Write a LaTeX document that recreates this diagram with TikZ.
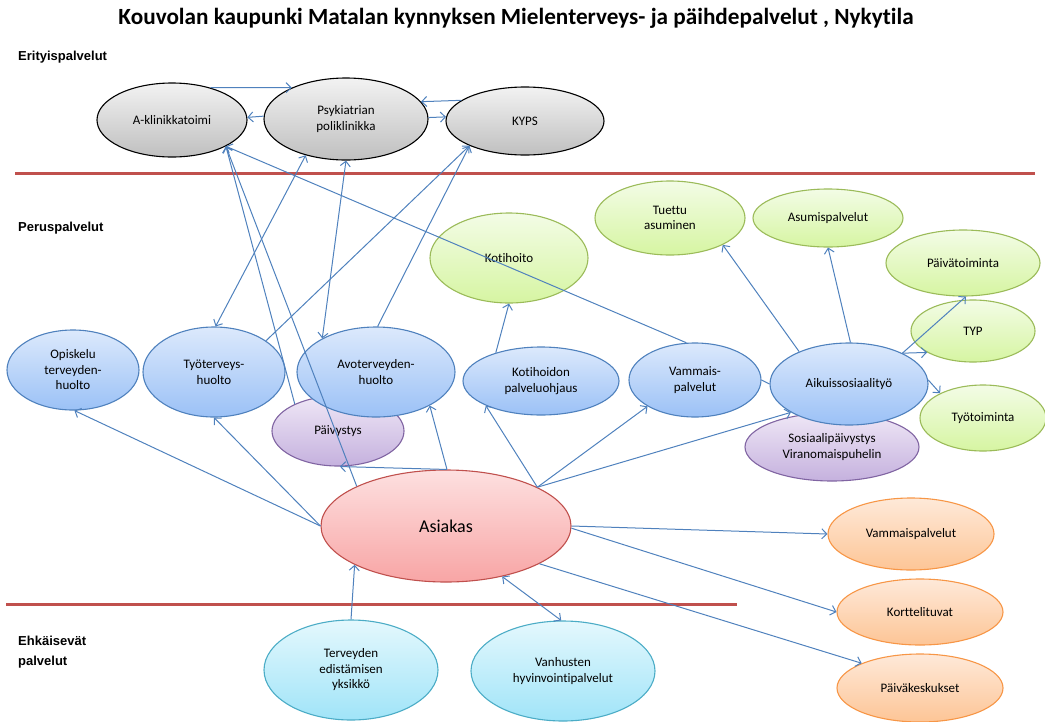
\documentclass[tikz,border=0pt]{standalone}
\usepackage{fontspec}
\setmainfont{Carlito}[Ligatures=NoCommon]
\newfontfamily\arialf{Liberation Sans}
\usetikzlibrary{arrows.meta,shapes.geometric}
\definecolor{connblue}{HTML}{4F81BD}
\definecolor{sepred}{HTML}{C0504D}
\begin{document}
\begin{tikzpicture}[x=1pt,y=-1pt,
  ell/.style={ellipse, draw, line width=1.1pt, inner sep=0pt, align=center,
    font=\fontsize{13}{15.5}\selectfont},
  grayell/.style={ell, draw=black, top color=gray!10, bottom color=gray!50},
  blueell/.style={ell, draw=connblue, top color={rgb,255:red,220;green,233;blue,252}, bottom color={rgb,255:red,155;green,193;blue,246}},
  purpell/.style={ell, draw={rgb,255:red,128;green,100;blue,162}, top color={rgb,255:red,239;green,231;blue,246}, bottom color={rgb,255:red,197;green,177;blue,222}},
  greenell/.style={ell, draw={rgb,255:red,155;green,187;blue,89}, top color={rgb,255:red,243;green,252;blue,230}, bottom color={rgb,255:red,214;green,245;blue,162}},
  redell/.style={ell, draw=sepred, top color={rgb,255:red,253;green,224;blue,224}, bottom color={rgb,255:red,248;green,165;blue,165}},
  orangeell/.style={ell, draw={rgb,255:red,247;green,150;blue,70}, top color={rgb,255:red,254;green,233;blue,217}, bottom color={rgb,255:red,253;green,197;blue,150}},
  cyanell/.style={ell, draw={rgb,255:red,75;green,172;blue,198}, top color={rgb,255:red,228;green,248;blue,253}, bottom color={rgb,255:red,160;green,228;blue,248}},
  arr/.style={draw=connblue, line width=1pt, -{Straight Barb[length=5pt,width=10pt]}},
  biarr/.style={draw=connblue, line width=1pt, {Straight Barb[length=5pt,width=10pt]}-{Straight Barb[length=5pt,width=10pt]}},
  plainln/.style={draw=connblue, line width=1pt},
  sepline/.style={draw=sepred, line width=3pt},
  seclabel/.style={font=\arialf\bfseries\fontsize{13}{20}\selectfont, anchor=west, align=left, inner sep=0pt},
]
\useasboundingbox (0,0) rectangle (1045,721);

% title and section labels
\node[font=\bfseries\fontsize{23.2}{26}\selectfont, inner sep=0pt] (title) at (516,18) {Kouvolan kaupunki Matalan kynnyksen Mielenterveys- ja päihdepalvelut , Nykytila};
\node[seclabel] (lab1) at (18,57) {Erityispalvelut};
\node[seclabel] (lab2) at (18,228) {Peruspalvelut};
\node[seclabel] (lab3) at (18,652) {Ehkäisevät\\palvelut};

% separators
\draw[sepline] (15,173) -- (1035,173);
\draw[sepline] (6,604) -- (737,604);

% top row
\node[grayell, minimum width=150pt, minimum height=74pt] (akl) at (172,120) {A-klinikkatoimi};
\node[grayell, minimum width=164pt, minimum height=82pt] (psy) at (346,119) {Psykiatrian\\poliklinikka};
\node[grayell, minimum width=158pt, minimum height=68pt] (kyps) at (525,121) {KYPS};

% green
\node[greenell, minimum width=158pt, minimum height=90pt] (koti) at (509,258) {Kotihoito};
\node[greenell, minimum width=150pt, minimum height=74pt] (tuet) at (670,218) {Tuettu\\asuminen};
\node[greenell, minimum width=150pt, minimum height=58pt] (asum) at (828,218) {Asumispalvelut};
\node[greenell, minimum width=154pt, minimum height=66pt] (ptoim) at (963,263) {Päivätoiminta};
\node[greenell, minimum width=124pt, minimum height=62pt] (typ) at (973,331) {TYP};
\node[greenell, minimum width=126pt, minimum height=66pt] (ttoim) at (983,418) {Työtoiminta};

% purple (behind blue)
\node[purpell, minimum width=132pt, minimum height=70pt] (paiv) at (338,431) {Päivystys};
\node[purpell, minimum width=174pt, minimum height=68pt] (sosp) at (832,447) {Sosiaalipäivystys\\Viranomaispuhelin};

% blue row
\node[blueell, minimum width=132pt, minimum height=80pt] (opi) at (73,370) {Opiskelu\\terveyden-\\huolto};
\node[blueell, minimum width=142pt, minimum height=90pt] (tyo) at (214,372) {Työterveys-\\huolto};
\node[blueell, minimum width=158pt, minimum height=90pt] (avo) at (376,372) {Avoterveyden-\\huolto};
\node[blueell, minimum width=156pt, minimum height=68pt] (koh) at (541,381) {Kotihoidon\\palveluohjaus};
\node[blueell, minimum width=132pt, minimum height=74pt] (vam) at (695,380) {Vammais-\\palvelut};
\node[blueell, minimum width=158pt, minimum height=82pt] (aik) at (849,384) {Aikuissosiaalityö};

% client
\node[redell, minimum width=250pt, minimum height=112pt, font=\fontsize{18}{21}\selectfont] (asi) at (446,526) {Asiakas};

% orange
\node[orangeell, minimum width=166pt, minimum height=72pt] (ovam) at (911,534) {Vammaispalvelut};
\node[orangeell, minimum width=166pt, minimum height=66pt] (kort) at (920,612) {Korttelituvat};
\node[orangeell, minimum width=166pt, minimum height=68pt] (pkes) at (920,688) {Päiväkeskukset};

% cyan
\node[cyanell, minimum width=174pt, minimum height=100pt] (terv) at (351,670) {Terveyden\\edistämisen\\yksikkö};
\node[cyanell, minimum width=184pt, minimum height=100pt] (vanh) at (563,671) {Vanhusten\\hyvinvointipalvelut};

% top row connectors
\draw[arr] (akl.40) -- (psy.150);
\draw[arr] (psy.178.6) -- (akl.2.3);
\draw[arr] (kyps.162.6) -- (psy.13.7);
\draw[arr] (psy.1.4) -- (kyps.177);

% to top row from below
\draw[arr] (vam.103.7) -- (akl.-26.1);
\draw[arr] (paiv.148.7) -- (akl.-26.1);
\draw[arr] (asi.156.6) -- (akl.-26.1);
\draw[biarr] (tyo.88.7) -- (psy.222.2);
\draw[biarr] (avo.148.7) -- (psy.270);
\draw[arr] (tyo.31.5) -- (kyps.204.5);
\draw[arr] (avo.88.7) -- (kyps.204.5);
\draw[arr] (koh.148.7) -- (koti.270);

% from client
\draw[arr] (asi.180) -- (opi.272);
\draw[arr] (asi.180) -- (tyo.270);
\draw[arr] (asi.89) -- (avo.328);
\draw[arr] (asi.89) -- (paiv.273);
\draw[arr] (asi.23.1) -- (koh.204);
\draw[arr] (asi.23.1) -- (vam.209.4);
\draw[arr] (asi.23.1) -- (aik.206.2);
\draw[plainln] (vam.0) -- (aik.180);

% from adult social work
\draw[arr] (aik.147.3) -- (tuet.333.4);
\draw[arr] (aik.88.6) -- (asum.270);
\draw[arr] (aik.30.8) -- (ptoim.275);
\draw[arr] (aik.30.8) -- (typ.205.6);
\draw[arr] (aik.3) -- (ttoim.150.9);

% client to right / bottom
\draw[arr] (asi.0) -- (ovam.180);
\draw[arr] (asi.-1) -- (kort.180);
\draw[arr] (asi.-22.6) -- (pkes.157.7);
\draw[biarr] (asi.-42.7) -- (vanh.92);
\draw[arr] (terv.90) -- (asi.203.4);
\end{tikzpicture}
\end{document}
